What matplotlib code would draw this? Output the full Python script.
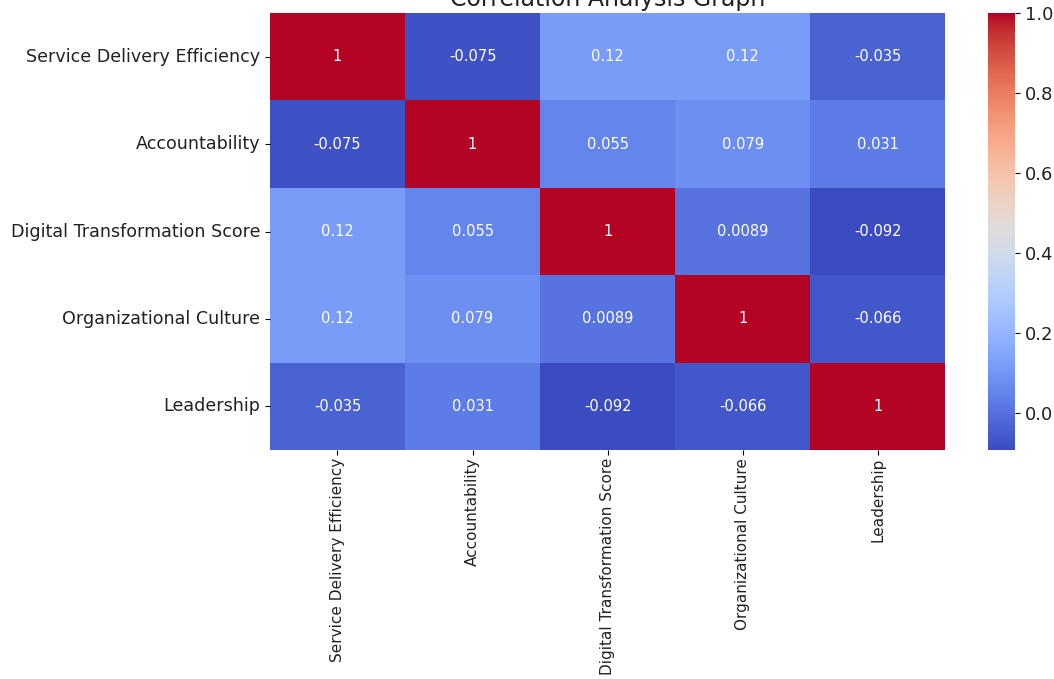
import matplotlib
matplotlib.use("Agg")
import matplotlib.pyplot as plt
import seaborn as sns
import numpy as np
import pandas as pd

labels = ["Service Delivery Efficiency", "Accountability",
          "Digital Transformation Score", "Organizational Culture", "Leadership"]
row_sde = [1, -0.075, 0.12, 0.12, -0.035]
row_acc = [-0.075, 1, 0.055, 0.079, 0.031]
row_dts = [0.12, 0.055, 1, 0.0089, -0.092]
row_oc = [0.12, 0.079, 0.0089, 1, -0.066]
row_lead = [-0.035, 0.031, -0.092, -0.066, 1]

corr = pd.DataFrame([row_sde, row_acc, row_dts, row_oc, row_lead],
                    index=labels, columns=labels)

fig = plt.figure(figsize=(10.54, 6.79), dpi=100)
ax = fig.add_axes([0.256, 0.337, 0.641, 0.644])
cax = fig.add_axes([0.937, 0.337, 0.026, 0.644])

sns.heatmap(corr, annot=True, cmap="coolwarm", ax=ax, cbar_ax=cax,
            annot_kws={"color": "white", "fontsize": 10.5})
ax.set_yticklabels(labels, rotation=0, fontsize=12.6, color="#222222")
ax.set_xticklabels(labels, rotation=90, fontsize=11, color="#222222")
ax.tick_params(axis="x", pad=2)
cax.tick_params(labelsize=13, labelcolor="#222222")

# title sits mostly above the canvas edge
fig.text(0.5765, 1 - 6 / 679, "Correlation Analysis Graph", fontsize=17,
         ha="center", va="baseline", color="#222222")

fig.savefig("out.png", dpi=100)
